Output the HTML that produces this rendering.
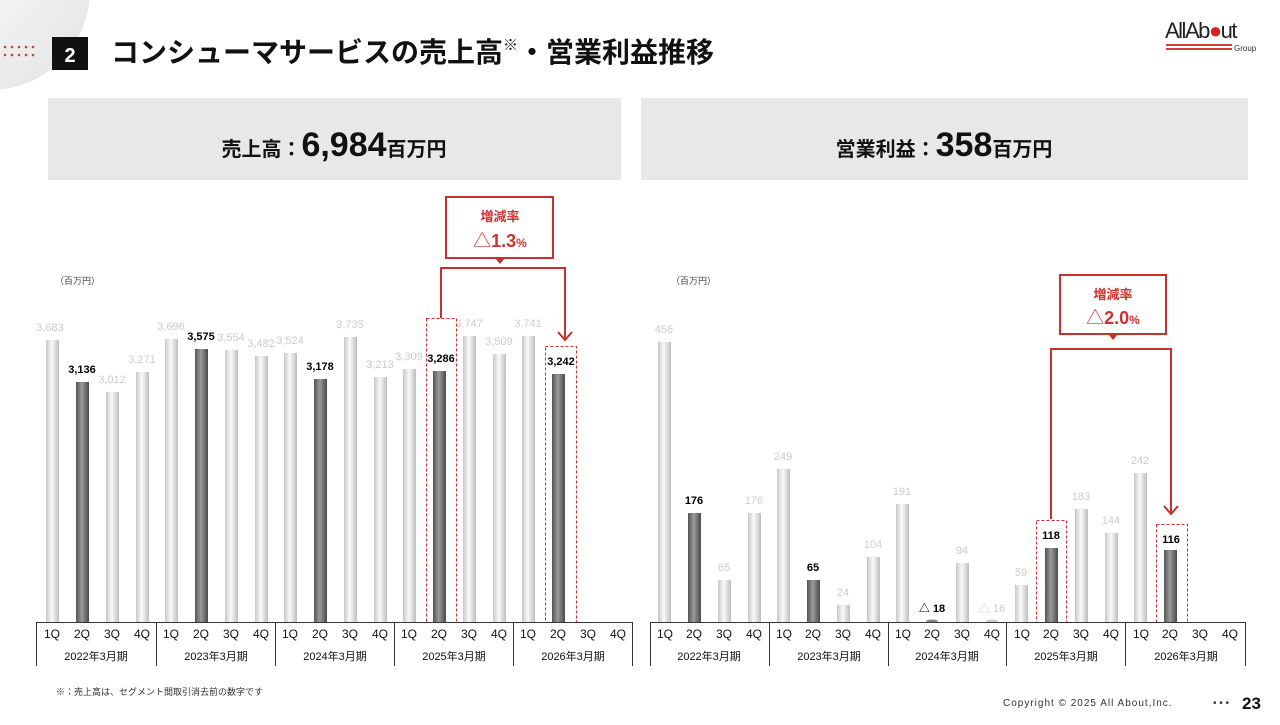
<!DOCTYPE html>
<html><head><meta charset="utf-8"><style>
body{margin:0;width:1280px;height:720px;overflow:hidden;background:#fff;font-family:"Liberation Sans","Noto Sans CJK JP",sans-serif}
</style></head><body>
<svg width="1280" height="720" viewBox="0 0 1280 720" xmlns="http://www.w3.org/2000/svg" font-family="Liberation Sans, Noto Sans CJK JP, sans-serif">
<defs>
<linearGradient id="lg" x1="0" x2="1"><stop offset="0" stop-color="#c8c8c8"/><stop offset="0.45" stop-color="#fafafa"/><stop offset="1" stop-color="#bdbdbd"/></linearGradient>
<linearGradient id="dg" x1="0" x2="1"><stop offset="0" stop-color="#555"/><stop offset="0.45" stop-color="#9a9a9a"/><stop offset="1" stop-color="#4a4a4a"/></linearGradient>
<radialGradient id="cg" cx="0.2" cy="0.2" r="1"><stop offset="0" stop-color="#fff"/><stop offset="1" stop-color="#e6e6e6"/></radialGradient>
</defs>
<circle cx="-10" cy="-10" r="100" fill="url(#cg)"/>
<g fill="#d04040">
<circle cx="5" cy="47" r="1.3"/><circle cx="12" cy="47" r="1.3"/><circle cx="19" cy="47" r="1.3"/><circle cx="26" cy="47" r="1.3"/><circle cx="33" cy="47" r="1.3"/>
<circle cx="5" cy="55" r="1.3"/><circle cx="12" cy="55" r="1.3"/><circle cx="19" cy="55" r="1.3"/><circle cx="26" cy="55" r="1.3"/><circle cx="33" cy="55" r="1.3"/>
</g>
<rect x="52" y="37" width="36" height="33" fill="#111"/>
<text x="70" y="62" fill="#fff" font-size="20" font-weight="bold" text-anchor="middle">2</text>
<text x="111" y="62" font-size="28" font-weight="bold" fill="#111">コンシューマサービスの売上高<tspan font-size="15" dy="-12">※</tspan><tspan dy="12">・営業利益推移</tspan></text>
<text x="1165" y="38" font-size="22" fill="#222" letter-spacing="-1.5">AllAb<tspan fill="#e02020">●</tspan>ut</text>
<g fill="#d04040"><rect x="1166" y="44" width="66" height="2"/><rect x="1166" y="48" width="66" height="2"/></g>
<text x="1234" y="51" font-size="8" fill="#333">Group</text>

<rect x="48" y="98" width="573" height="82" fill="#e8e8e8"/>
<rect x="641" y="98" width="607" height="82" fill="#e8e8e8"/>
<text x="334" y="156" text-anchor="middle" font-weight="bold" fill="#111"><tspan font-size="20">売上高：</tspan><tspan font-size="34">6,984</tspan><tspan font-size="20">百万円</tspan></text>
<text x="944" y="156" text-anchor="middle" font-weight="bold" fill="#111"><tspan font-size="20">営業利益：</tspan><tspan font-size="34">358</tspan><tspan font-size="20">百万円</tspan></text>

<text x="55" y="284" font-size="9" fill="#444">（百万円）</text>
<text x="671" y="284" font-size="9" fill="#444">（百万円）</text>

<g font-size="11" text-anchor="middle">
<rect x="46" y="340" width="13" height="282" fill="url(#lg)"/><text x="50" y="331" fill="#ccc">3,683</text>
<rect x="76" y="382" width="13" height="240" fill="url(#dg)"/><text x="82" y="373" fill="#000" font-weight="bold">3,136</text>
<rect x="106" y="392" width="13" height="230" fill="url(#lg)"/><text x="112" y="383" fill="#ccc">3,012</text>
<rect x="136" y="372" width="13" height="250" fill="url(#lg)"/><text x="142" y="363" fill="#ccc">3,271</text>
<rect x="165" y="339" width="13" height="283" fill="url(#lg)"/><text x="171" y="330" fill="#ccc">3,696</text>
<rect x="195" y="349" width="13" height="273" fill="url(#dg)"/><text x="201" y="340" fill="#000" font-weight="bold">3,575</text>
<rect x="225" y="350" width="13" height="272" fill="url(#lg)"/><text x="231" y="341" fill="#ccc">3,554</text>
<rect x="255" y="356" width="13" height="266" fill="url(#lg)"/><text x="261" y="347" fill="#ccc">3,482</text>
<rect x="284" y="353" width="13" height="269" fill="url(#lg)"/><text x="290" y="344" fill="#ccc">3,524</text>
<rect x="314" y="379" width="13" height="243" fill="url(#dg)"/><text x="320" y="370" fill="#000" font-weight="bold">3,178</text>
<rect x="344" y="337" width="13" height="285" fill="url(#lg)"/><text x="350" y="328" fill="#ccc">3,735</text>
<rect x="374" y="377" width="13" height="245" fill="url(#lg)"/><text x="380" y="368" fill="#ccc">3,213</text>
<rect x="403" y="369" width="13" height="253" fill="url(#lg)"/><text x="409" y="360" fill="#ccc">3,309</text>
<rect x="433" y="371" width="13" height="251" fill="url(#dg)"/><text x="441" y="362" fill="#000" font-weight="bold">3,286</text>
<rect x="463" y="336" width="13" height="286" fill="url(#lg)"/><text x="469" y="327" fill="#ccc">3,747</text>
<rect x="493" y="354" width="13" height="268" fill="url(#lg)"/><text x="499" y="345" fill="#ccc">3,509</text>
<rect x="522" y="336" width="13" height="286" fill="url(#lg)"/><text x="528" y="327" fill="#ccc">3,741</text>
<rect x="552" y="374" width="13" height="248" fill="url(#dg)"/><text x="561" y="365" fill="#000" font-weight="bold">3,242</text>
</g>
<g font-size="11" text-anchor="middle">
<rect x="658" y="342" width="13" height="280" fill="url(#lg)"/><text x="664" y="333" fill="#ccc">456</text>
<rect x="688" y="513" width="13" height="109" fill="url(#dg)"/><text x="694" y="504" fill="#000" font-weight="bold">176</text>
<rect x="718" y="580" width="13" height="42" fill="url(#lg)"/><text x="724" y="571" fill="#ccc">65</text>
<rect x="748" y="513" width="13" height="109" fill="url(#lg)"/><text x="754" y="504" fill="#ccc">176</text>
<rect x="777" y="469" width="13" height="153" fill="url(#lg)"/><text x="783" y="460" fill="#ccc">249</text>
<rect x="807" y="580" width="13" height="42" fill="url(#dg)"/><text x="813" y="571" fill="#000" font-weight="bold">65</text>
<rect x="837" y="605" width="13" height="17" fill="url(#lg)"/><text x="843" y="596" fill="#ccc">24</text>
<rect x="867" y="557" width="13" height="65" fill="url(#lg)"/><text x="873" y="548" fill="#ccc">104</text>
<rect x="896" y="504" width="13" height="118" fill="url(#lg)"/><text x="902" y="495" fill="#ccc">191</text>
<ellipse cx="932" cy="621" rx="6" ry="1.5" fill="#888"/><text x="932" y="612" fill="#000" font-weight="bold">△ 18</text>
<rect x="956" y="563" width="13" height="59" fill="url(#lg)"/><text x="962" y="554" fill="#ccc">94</text>
<ellipse cx="992" cy="621" rx="6" ry="1.5" fill="#ccc"/><text x="992" y="612" fill="#ccc">△ 16</text>
<rect x="1015" y="585" width="13" height="37" fill="url(#lg)"/><text x="1021" y="576" fill="#ccc">59</text>
<rect x="1045" y="548" width="13" height="74" fill="url(#dg)"/><text x="1051" y="539" fill="#000" font-weight="bold">118</text>
<rect x="1075" y="509" width="13" height="113" fill="url(#lg)"/><text x="1081" y="500" fill="#ccc">183</text>
<rect x="1105" y="533" width="13" height="89" fill="url(#lg)"/><text x="1111" y="524" fill="#ccc">144</text>
<rect x="1134" y="473" width="13" height="149" fill="url(#lg)"/><text x="1140" y="464" fill="#ccc">242</text>
<rect x="1164" y="550" width="13" height="72" fill="url(#dg)"/><text x="1171" y="543" fill="#000" font-weight="bold">116</text>
</g>

<g fill="none" stroke="#d03030" stroke-dasharray="3,2" stroke-width="1">
<rect x="426.5" y="318.5" width="30" height="304"/>
<rect x="545.5" y="346.5" width="31" height="276"/>
<rect x="1036.5" y="520.5" width="30" height="102"/>
<rect x="1156.5" y="524.5" width="31" height="98"/>
</g>
<g fill="none" stroke="#c83030" stroke-width="2">
<polyline points="441,318 441,268 565,268 565,340"/>
<polyline points="558,332 565,340 572,332"/>
<rect x="446" y="197" width="107" height="61" fill="#fff"/>
<polyline points="1051,519 1051,349 1171,349 1171,514"/>
<polyline points="1164,506 1171,514 1178,506"/>
<rect x="1060" y="275" width="106" height="59" fill="#fff"/>
</g>
<polygon points="495,258 505,258 500,264" fill="#c83030"/>
<polygon points="1108,334 1118,334 1113,340" fill="#c83030"/>
<g fill="#d03030" text-anchor="middle" font-weight="bold">
<text x="500" y="221" font-size="13">増減率</text>
<text x="500" y="247" font-size="18"><tspan font-weight="normal">△</tspan>1.3<tspan font-size="12">%</tspan></text>
<text x="1113" y="299" font-size="13">増減率</text>
<text x="1113" y="324" font-size="18"><tspan font-weight="normal">△</tspan>2.0<tspan font-size="12">%</tspan></text>
</g>

<g stroke="#333" stroke-width="1">
<line x1="36" y1="622.5" x2="632" y2="622.5"/>
<line x1="36.5" y1="622" x2="36.5" y2="666"/><line x1="156.5" y1="622" x2="156.5" y2="666"/><line x1="275.5" y1="622" x2="275.5" y2="666"/><line x1="394.5" y1="622" x2="394.5" y2="666"/><line x1="513.5" y1="622" x2="513.5" y2="666"/><line x1="632.5" y1="622" x2="632.5" y2="666"/>
<line x1="650" y1="622.5" x2="1246" y2="622.5"/>
<line x1="650.5" y1="622" x2="650.5" y2="666"/><line x1="769.5" y1="622" x2="769.5" y2="666"/><line x1="888.5" y1="622" x2="888.5" y2="666"/><line x1="1006.5" y1="622" x2="1006.5" y2="666"/><line x1="1125.5" y1="622" x2="1125.5" y2="666"/><line x1="1245.5" y1="622" x2="1245.5" y2="666"/>
</g>
<g font-size="12" fill="#111" text-anchor="middle">
<text x="52" y="638">1Q</text><text x="82" y="638">2Q</text><text x="112" y="638">3Q</text><text x="142" y="638">4Q</text>
<text x="171" y="638">1Q</text><text x="201" y="638">2Q</text><text x="231" y="638">3Q</text><text x="261" y="638">4Q</text>
<text x="290" y="638">1Q</text><text x="320" y="638">2Q</text><text x="350" y="638">3Q</text><text x="380" y="638">4Q</text>
<text x="409" y="638">1Q</text><text x="439" y="638">2Q</text><text x="469" y="638">3Q</text><text x="499" y="638">4Q</text>
<text x="528" y="638">1Q</text><text x="558" y="638">2Q</text><text x="588" y="638">3Q</text><text x="618" y="638">4Q</text>
<text x="665" y="638">1Q</text><text x="694" y="638">2Q</text><text x="724" y="638">3Q</text><text x="754" y="638">4Q</text>
<text x="784" y="638">1Q</text><text x="813" y="638">2Q</text><text x="843" y="638">3Q</text><text x="873" y="638">4Q</text>
<text x="903" y="638">1Q</text><text x="932" y="638">2Q</text><text x="962" y="638">3Q</text><text x="992" y="638">4Q</text>
<text x="1022" y="638">1Q</text><text x="1051" y="638">2Q</text><text x="1081" y="638">3Q</text><text x="1111" y="638">4Q</text>
<text x="1141" y="638">1Q</text><text x="1170" y="638">2Q</text><text x="1200" y="638">3Q</text><text x="1230" y="638">4Q</text>
</g>
<g font-size="11" fill="#111" text-anchor="middle">
<text x="96" y="660">2022年3月期</text><text x="216" y="660">2023年3月期</text><text x="335" y="660">2024年3月期</text><text x="454" y="660">2025年3月期</text><text x="573" y="660">2026年3月期</text>
<text x="709" y="660">2022年3月期</text><text x="829" y="660">2023年3月期</text><text x="947" y="660">2024年3月期</text><text x="1066" y="660">2025年3月期</text><text x="1186" y="660">2026年3月期</text>
</g>

<text x="56" y="695" font-size="9" fill="#333">※：売上高は、セグメント間取引消去前の数字です</text>
<text x="1003" y="706" font-size="10" fill="#333" letter-spacing="1">Copyright © 2025 All About,Inc.</text>
<text x="1213" y="706" font-size="10" fill="#333">• • •</text>
<text x="1242" y="709" font-size="17" font-weight="bold" fill="#111">23</text>
</svg>
</body></html>
